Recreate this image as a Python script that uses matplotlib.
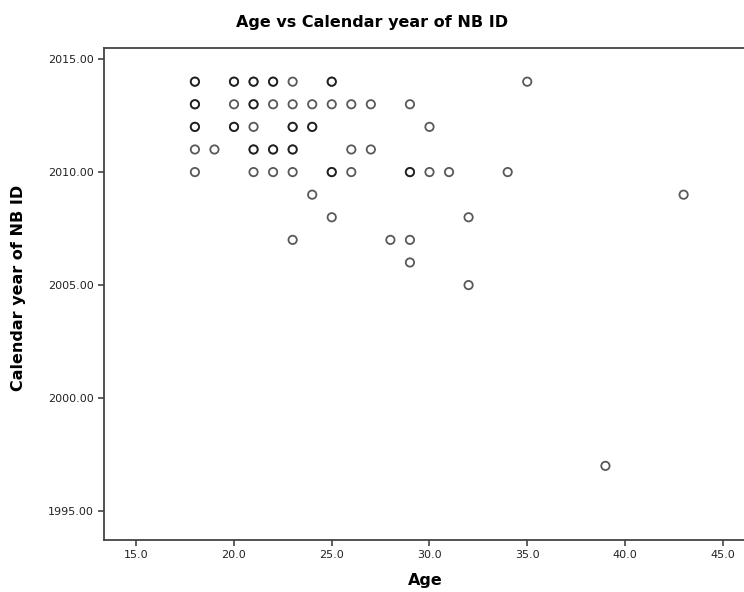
import matplotlib
matplotlib.use("Agg")
from matplotlib import pyplot as plt
from matplotlib.ticker import FormatStrFormatter

# Age / calendar year pairs; repeated pairs draw darker rings
age = [18, 18, 20, 20, 21, 21, 22, 22, 23, 25, 25, 35,
       18, 18, 20, 21, 21, 22, 23, 24, 25, 26, 27, 29,
       18, 18, 20, 20, 21, 23, 23, 24, 24, 30,
       18, 19, 21, 21, 22, 22, 23, 23, 26, 27,
       18, 21, 22, 23, 25, 25, 26, 29, 29, 30, 31, 34,
       24, 43,
       25, 32,
       23, 28, 29,
       29,
       32,
       39]
year = [2014, 2014, 2014, 2014, 2014, 2014, 2014, 2014, 2014, 2014, 2014, 2014,
        2013, 2013, 2013, 2013, 2013, 2013, 2013, 2013, 2013, 2013, 2013, 2013,
        2012, 2012, 2012, 2012, 2012, 2012, 2012, 2012, 2012, 2012,
        2011, 2011, 2011, 2011, 2011, 2011, 2011, 2011, 2011, 2011,
        2010, 2010, 2010, 2010, 2010, 2010, 2010, 2010, 2010, 2010, 2010, 2010,
        2009, 2009,
        2008, 2008,
        2007, 2007, 2007,
        2006,
        2005,
        1997]

x_ticks = [15, 20, 25, 30, 35, 40, 45]
y_ticks = [1995, 2000, 2005, 2010, 2015]

fig = plt.figure(figsize=(7.44, 5.92), dpi=100)
ax = fig.add_axes([104 / 744, 52 / 592, 650 / 744, 492 / 592])

ax.scatter(age, year, s=36, facecolors="none", edgecolors="black",
           linewidths=1.3, alpha=0.65)

ax.set_xlim(13.35, 46.6)
ax.set_ylim(1993.72, 2015.49)
ax.set_xticks(x_ticks)
ax.set_yticks(y_ticks)
ax.xaxis.set_major_formatter(FormatStrFormatter("%.1f"))
ax.yaxis.set_major_formatter(FormatStrFormatter("%.2f"))

for side in ["left", "bottom", "top"]:
    ax.spines[side].set_color("#444444")
    ax.spines[side].set_linewidth(1.3)
ax.spines["right"].set_visible(False)  # the reference is cut off before it

ax.tick_params(axis="both", direction="out", length=4, width=1.2,
               color="#444444", labelsize=8, labelcolor="#222222")
ax.tick_params(top=False, right=False)

fig.text(0.5, 1 - 22 / 592, "Age vs Calendar year of NB ID", ha="center",
         va="center", fontsize=11.5, fontweight="bold")
fig.text(19 / 744, 1 - 288 / 592, "Calendar year of NB ID", ha="center",
         va="center", rotation=90, fontsize=11.5, fontweight="bold")
fig.text(425 / 744, 1 - 580 / 592, "Age", ha="center", va="center",
         fontsize=11.5, fontweight="bold")

plt.savefig("out.png", dpi=100)
plt.close()
